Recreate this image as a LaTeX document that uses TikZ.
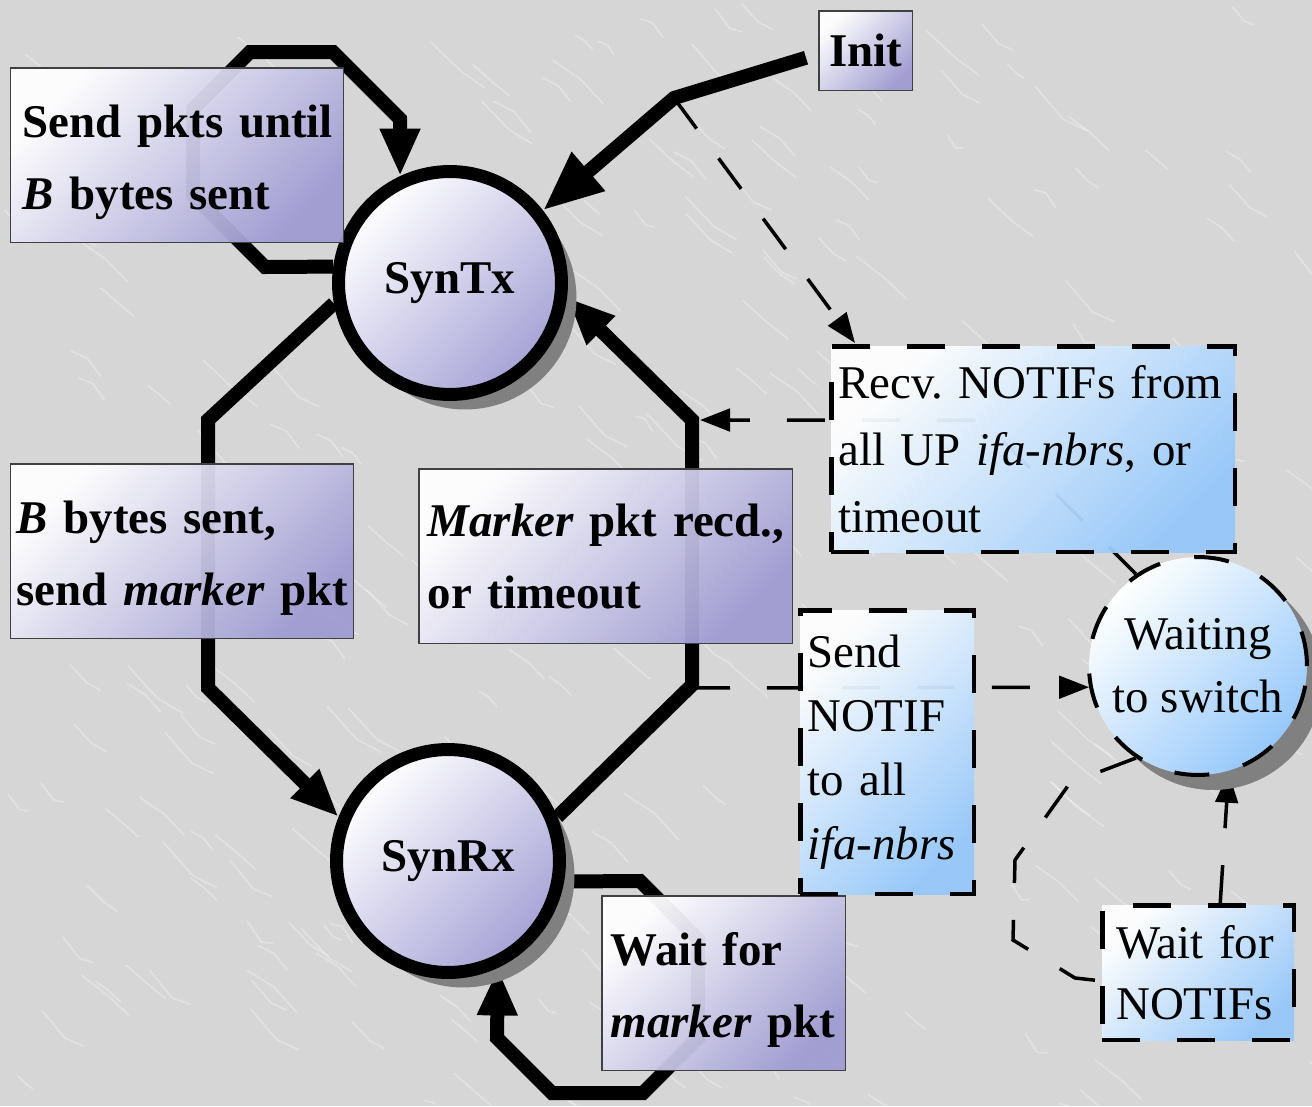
\documentclass[tikz,border=0pt]{standalone}
\usepackage{fontspec}
\setmainfont{Liberation Serif}
\usetikzlibrary{arrows.meta,shadows,calc}
\definecolor{bgc}{RGB}{214,214,214}
\definecolor{lav}{RGB}{160,156,210}
\definecolor{lavc}{RGB}{166,163,214}
\definecolor{sky}{RGB}{150,200,250}
\pgfdeclarelayer{bglayer}
\pgfdeclarelayer{lines}
\pgfsetlayers{bglayer,lines,main}
\newcommand{\Lb}[1]{\mbox{#1}}
\newcommand{\Dn}{\rule{0pt}{0.93cm}}
\tikzset{
  pbox/.style={draw=black!75, line width=0.03cm, top color=white, bottom color=lav,
    shading angle=45, fill opacity=0.95, text opacity=1, anchor=north west, align=left,
    font=\bfseries\fontsize{26.7pt}{41pt}\selectfont, inner ysep=0pt},
  bbox/.style={draw=black, line width=0.09cm, dash pattern=on 0.76cm off 0.74cm,
    top color=white, bottom color=sky, shading angle=45, fill opacity=0.95, text opacity=1,
    anchor=north west, align=left, inner ysep=0pt},
  state/.style={circle, draw=black, line width=0.26cm, top color=white, bottom color=lavc,
    shading angle=45, minimum size=4.46cm, inner sep=0pt,
    font=\bfseries\fontsize{26.7pt}{32pt}\selectfont,
    drop shadow={shadow xshift=0.3cm, shadow yshift=-0.3cm, opacity=1, fill=black!50}},
  wstate/.style={circle, draw=black, line width=0.08cm, dash pattern=on 0.7cm off 0.7cm,
    top color=white, bottom color=sky, shading angle=45, minimum size=4.36cm, inner sep=0pt,
    align=center, font=\fontsize{26.7pt}{36pt}\selectfont,
    drop shadow={shadow xshift=0.3cm, shadow yshift=-0.3cm, opacity=1, fill=black!50}},
  thk/.style={draw=black, line width=0.28cm, -{Triangle[length=0.95cm,width=0.75cm]}},
  dsh/.style={draw=black, line width=0.07cm, dash pattern=on 0.76cm off 0.74cm,
    -{Triangle[length=0.6cm,width=0.45cm]}},
  dshplain/.style={draw=black, line width=0.07cm, dash pattern=on 0.76cm off 0.74cm},
  vein/.style={white, opacity=0.28, line width=0.035cm, line cap=round}
}
\begin{document}
\frenchspacing
\begin{tikzpicture}[x=0.02cm, y=-0.02cm]
\useasboundingbox (0,0) rectangle (1312,1106);
\begin{pgfonlayer}{bglayer}
  \fill[bgc] (0,0) rectangle (1312,1106);
  \pgfmathsetseed{7}
  \foreach \i in {1,...,260}{
    \pgfmathsetmacro{\xa}{rnd*1312}
    \pgfmathsetmacro{\ya}{rnd*1106}
    \pgfmathsetmacro{\vl}{15+rnd*40}
    \pgfmathsetmacro{\bend}{rnd*16-8}
    \draw[vein] (\xa,\ya) -- ++(\vl*0.55,\vl*0.5+\bend) -- ++(\vl*0.45,\vl*0.35-\bend);
  }
\end{pgfonlayer}

% states
\node[state] (syntx) at (450,283) {SynTx};
\node[state] (synrx) at (448,861) {SynRx};
\node[wstate] (waiting) at (1198,666) {Waiting\\to switch};

% label boxes
\node[pbox, minimum width=1.88cm, minimum height=1.6cm, align=center, inner xsep=0pt] (init) at (818,10) {Init};
\node[pbox, minimum width=6.66cm, minimum height=3.5cm, text width=6.18cm, inner xsep=0.24cm]
  (sendpkts) at (10,67) {\Lb{\Dn Send pkts until}\\\Lb{\textit{B} bytes sent}};
\node[pbox, minimum width=6.86cm, minimum height=3.5cm, text width=6.62cm, inner xsep=0.12cm]
  (bbytes) at (10,463) {\Lb{\Dn\textit{B} bytes sent,}\\\Lb{send \textit{marker} pkt}};
\node[pbox, minimum width=7.48cm, minimum height=3.5cm, text width=7.12cm, inner xsep=0.18cm]
  (marker) at (418,468) {\Lb{\textit{Marker} pkt recd.,}\\\Lb{or timeout}};
\node[pbox, minimum width=4.88cm, minimum height=3.5cm, text width=4.52cm, inner xsep=0.18cm]
  (waitmarker) at (601,895) {\Lb{\Dn Wait for}\\\Lb{\textit{marker} pkt}};
\node[bbox, font=\fontsize{26.7pt}{38.4pt}\selectfont, minimum width=8.08cm, minimum height=4.12cm,
  text width=7.8cm, inner xsep=0.14cm]
  (recv) at (829,344) {\Lb{Recv. NOTIFs from}\\\Lb{all UP \textit{ifa-nbrs}, or}\\\Lb{timeout}};
\node[bbox, font=\fontsize{26.7pt}{36.4pt}\selectfont, minimum width=3.48cm, minimum height=5.68cm,
  text width=3.2cm, inner xsep=0.14cm]
  (sendnotif) at (798,608) {\Lb{Send}\\\Lb{NOTIF}\\\Lb{to all}\\\Lb{\textit{ifa-nbrs}}};
\node[bbox, font=\fontsize{26.7pt}{35pt}\selectfont, minimum width=3.84cm, minimum height=2.7cm,
  text width=3.28cm, inner xsep=0.28cm]
  (waitnotifs) at (1100,903) {\Lb{Wait for}\\\Lb{NOTIFs}};

\coordinate (initbend) at (674,98);
\coordinate (rv) at (692,688);

\begin{pgfonlayer}{lines}
  % dashed connectors
  \draw[dsh] (initbend) -- ($(recv.north west)+(26,-1)$);
  \draw[dsh] (waiting.124) -- (982,420) -- (700,420);
  \draw[dsh] (rv) -- (waiting.191.7);
  \draw[dshplain] (waiting.236.5) -- (1070,783) -- (1015,860) -- (1013,940) -- (1075,978)
    -- ($(waitnotifs.west)+(0,8)$);
  \draw[dsh] ($(waitnotifs.north)+(22,0)$) -- (waiting.-74.6);
  % thick connectors
  \draw[thk] (syntx.172) -- (265,267) -- (193,195) -- (193,109) -- (250,52) -- (333,52)
    -- (400,119) -- (syntx.115);
  \draw[thk, -{Triangle[length=1.2cm,width=0.95cm]}] ($(init.west)+(-12,7)$) -- (initbend) -- (syntx.38);
  \draw[thk] (syntx.190) -- (208,420) -- (208,688) -- (synrx.158);
  \draw[thk] (synrx.22) -- (692,685) -- (692,420) -- (syntx.-7);
  \draw[thk] (synrx.-10) -- (640,881) -- (698,939) -- (698,1038) -- (643,1093) -- (552,1093)
    -- (497,1038) -- (synrx.-65.5);
\end{pgfonlayer}
\end{tikzpicture}
\end{document}
